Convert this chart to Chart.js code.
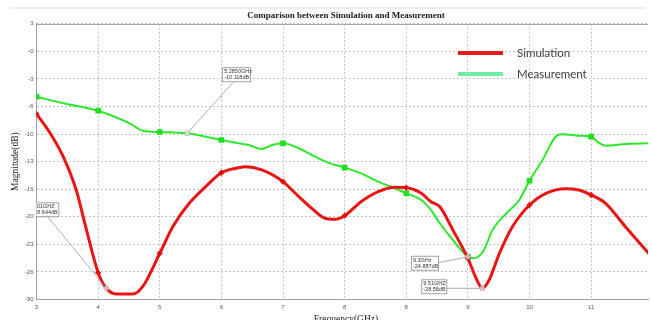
<!DOCTYPE html>
<html>
<head>
<meta charset="utf-8">
<script src="https://cdn.jsdelivr.net/npm/chart.js@4.4.0/dist/chart.umd.min.js"></script>
<style>
  body { margin: 0; background: #fff; }
  #wrap { width: 652px; height: 320px; position: relative; }
</style>
</head>
<body>
<div id="wrap"><canvas id="chart"></canvas></div>
<script>
// Simulation curve (GHz, dB)
const simFreq = [3.00, 3.20, 3.39, 3.58, 3.73, 3.9, 4.02, 4.16, 4.41, 4.55, 4.8, 4.99, 5.23, 5.47, 5.7,
  5.95, 6.05, 6.29, 6.6, 6.78, 7.02, 7.21, 7.36, 7.5, 7.74, 7.99, 8.23, 8.4, 8.62, 8.76, 8.89,
  9.08, 9.3, 9.42, 9.51, 9.61, 9.76, 9.95, 10.2, 10.44, 10.73, 10.92, 11.1, 11.31, 11.6, 11.94];
const simDb = [-7.80, -10.11, -12.91, -16.90, -21.68, -26.79, -28.66, -29.34, -29.34, -28.47, -24.47, -21.29, -18.49, -16.50, -14.83,
  -14.23, -14.11, -14.50, -15.90, -17.29, -19.09, -20.28, -20.40, -19.97, -18.30, -17.10, -16.57, -16.62, -17.29, -18.30, -18.90,
  -21.68, -25.07, -27.46, -28.66, -27.67, -24.47, -21.29, -18.69, -17.29, -16.74, -16.90, -17.50, -18.49, -21.29, -24.47];

// Measurement curve (GHz, dB)
const measFreq = [3.00, 3.39, 3.9, 4.36, 4.55, 4.8, 5.2, 5.7, 5.95, 6.10, 6.29, 6.44, 6.6, 6.78, 7.02, 7.26,
  7.5, 7.74, 7.99, 8.23, 8.4, 8.62, 8.76, 8.89, 9.08, 9.3, 9.37, 9.52, 9.66, 9.86, 10.05, 10.2,
  10.39, 10.58, 10.68, 10.92, 11.1, 11.21, 11.31, 11.6, 11.94];
const measDb = [-5.73, -6.52, -7.41, -8.92, -9.80, -9.96, -10.11, -10.92, -11.31, -11.51, -11.99, -11.51, -11.31, -11.72, -12.71, -13.63,
  -14.23, -14.90, -15.90, -16.69, -17.29, -18.09, -19.29, -20.88, -22.88, -24.88, -25.07, -24.28, -21.68, -19.69, -18.09, -15.79,
  -13.31, -10.52, -10.23, -10.40, -10.52, -11.24, -11.60, -11.39, -11.31];

// marker symbols sit on every x tick
const markerFreq = [3, 3.9, 4.8, 5.7, 6.6, 7.5, 8.4, 9.3, 10.2, 11.1];
const simMarkerDb = [-7.80, -26.79, -24.47, -14.83, -15.90, -19.97, -16.62, -25.07, -18.69, -17.50];
const measMarkerDb = [-5.73, -7.41, -9.96, -10.92, -11.31, -14.23, -17.29, -24.88, -15.79, -10.52];

// axis ticks as printed on the original plot
const xTicks = [3, 3.9, 4.8, 5.7, 6.6, 7.5, 8.4, 9.3, 10.2, 11.1];
const xTickLabels = ['3', '4', '5', '6', '7', '8', '8', '9', '10', '11'];
const yTicks = [3, -0.3, -3.6, -6.9, -10.2, -13.5, -16.8, -20.1, -23.4, -26.7, -30];
const yTickLabels = ['3', '-0', '-3', '-6', '-10', '-13', '-16', '-20', '-23', '-26', '-30'];

// data tips
const tipFreq = [5.2, 4.02, 9.3, 9.51];
const tipDb = [-10.11, -28.66, -24.88, -28.66];
const tipText = [['5.2850GHz', '-10.118dB'], ['4.01GHZ', '-28.644dB'], ['9.3GHz', '-24.887dB'], ['9.51GHZ', '-28.58dB']];
// box placement relative to the tip point (px), ax/ay = where the leader leaves the box
const tipBox = [
  { dx: 35, dy: -66, w: 28, ax: 12, ay: 14 },
  { dx: -76, dy: -86, w: 28, ax: 17, ay: 14 },
  { dx: -57, dy: -1, w: 27, ax: 27, ay: 7 },
  { dx: -61, dy: -9, w: 25, ax: 25, ay: 9 }
];

const toPoints = (xs, ys) => xs.map((x, i) => ({ x: x, y: ys[i] }));

const decorations = {
  id: 'decorations',
  beforeDraw(chart) {
    const ctx = chart.ctx;
    ctx.save();
    ctx.strokeStyle = '#eeeeee';
    ctx.lineWidth = 2;
    ctx.beginPath();
    ctx.moveTo(10, 8);
    ctx.lineTo(645, 8);
    ctx.stroke();
    ctx.fillStyle = '#1a1a1a';
    ctx.font = 'bold 9px "Liberation Serif"';
    ctx.textAlign = 'center';
    ctx.textBaseline = 'middle';
    ctx.fillText('Comparison between Simulation and Measurement', 346, 16);
    ctx.restore();
  },
  afterDatasetsDraw(chart) {
    const ctx = chart.ctx;
    const area = chart.chartArea;
    const xs = chart.scales.x, ys = chart.scales.y;
    ctx.save();
    // solid top frame
    ctx.strokeStyle = '#a8a8a8';
    ctx.lineWidth = 1;
    ctx.beginPath();
    ctx.moveTo(area.left, Math.round(area.top) + 0.5);
    ctx.lineTo(area.right, Math.round(area.top) + 0.5);
    ctx.stroke();

    ctx.beginPath();
    ctx.rect(area.left, area.top, area.right - area.left, area.bottom - area.top);
    ctx.clip();
    tipFreq.forEach((f, i) => {
      const px = xs.getPixelForValue(f);
      const py = ys.getPixelForValue(tipDb[i]);
      const b = tipBox[i];
      const bx = px + b.dx, by = py + b.dy;
      ctx.strokeStyle = '#9a9a9a';
      ctx.lineWidth = 0.8;
      ctx.beginPath();
      ctx.moveTo(bx + b.ax, by + b.ay);
      ctx.lineTo(px, py);
      ctx.stroke();
      ctx.beginPath();
      ctx.arc(px, py, 2.5, 0, Math.PI * 2);
      ctx.fillStyle = 'rgba(255,255,255,0.6)';
      ctx.fill();
      ctx.stroke();
      ctx.fillStyle = '#fff';
      ctx.fillRect(bx, by, b.w, 14);
      ctx.strokeStyle = '#8a8a8a';
      ctx.strokeRect(bx + 0.5, by + 0.5, b.w, 14);
      ctx.fillStyle = '#333';
      ctx.font = '5.5px "Liberation Sans"';
      ctx.textAlign = 'left';
      ctx.textBaseline = 'middle';
      ctx.fillText(tipText[i][0], bx + 2, by + 4.5);
      ctx.fillText(tipText[i][1], bx + 2, by + 10.5);
    });
    ctx.restore();

    // legend
    ctx.save();
    ctx.lineWidth = 4;
    ctx.strokeStyle = '#e31b1b';
    ctx.beginPath(); ctx.moveTo(458, 53); ctx.lineTo(503, 53); ctx.stroke();
    ctx.strokeStyle = '#6cefa4';
    ctx.beginPath(); ctx.moveTo(458, 74); ctx.lineTo(503, 74); ctx.stroke();
    ctx.fillStyle = '#3a3a3a';
    ctx.font = '11.5px Lato';
    ctx.textBaseline = 'middle';
    ctx.fillText('Simulation', 517, 53);
    ctx.fillText('Measurement', 517, 74);
    // x axis title (cut by the bottom edge like the original)
    ctx.fillStyle = '#1a1a1a';
    ctx.font = '9.5px "Liberation Serif"';
    ctx.textAlign = 'center';
    ctx.fillText('Frequency(GHz)', 346, 319);
    ctx.restore();
  }
};

new Chart(document.getElementById('chart'), {
  type: 'line',
  data: {
    datasets: [
      {
        label: 'Simulation markers',
        data: toPoints(markerFreq, simMarkerDb),
        showLine: false,
        pointStyle: 'rectRot',
        pointRadius: 3.2,
        backgroundColor: '#e01010',
        borderColor: '#e01010',
        borderWidth: 0,
        clip: 0
      },
      {
        label: 'Simulation',
        data: toPoints(simFreq, simDb),
        borderColor: '#e81515',
        borderWidth: 3,
        pointRadius: 0,
        cubicInterpolationMode: 'monotone',
        clip: 0
      },
      {
        label: 'Measurement markers',
        data: toPoints(markerFreq, measMarkerDb),
        showLine: false,
        pointStyle: 'rect',
        pointRadius: 4,
        backgroundColor: '#1fe01f',
        borderColor: '#1fe01f',
        borderWidth: 0,
        clip: 0
      },
      {
        label: 'Measurement',
        data: toPoints(measFreq, measDb),
        borderColor: '#2ee82e',
        borderWidth: 2,
        pointRadius: 0,
        cubicInterpolationMode: 'monotone',
        clip: 0
      }
    ]
  },
  options: {
    responsive: true,
    maintainAspectRatio: false,
    animation: false,
    layout: { padding: { top: 23.7, right: 0, bottom: 0, left: 0 } },
    plugins: {
      legend: { display: false },
      tooltip: { enabled: false }
    },
    scales: {
      x: {
        type: 'linear',
        min: 3,
        max: 11.93,
        afterBuildTicks: (axis) => { axis.ticks = xTicks.map(v => ({ value: v })); },
        afterFit: (axis) => { axis.height = 20.5; },
        ticks: {
          autoSkip: false,
          maxRotation: 0,
          padding: 4,
          color: '#555',
          font: { size: 6, family: 'Liberation Sans' },
          callback: (value, index) => xTickLabels[index]
        },
        grid: { color: '#c4c4c4', drawTicks: false },
        border: { display: true, color: '#a0a0a0', width: 1, dash: [2, 2] }
      },
      y: {
        min: -30,
        max: 3,
        afterBuildTicks: (axis) => { axis.ticks = yTicks.map(v => ({ value: v })); },
        afterFit: (axis) => { axis.width = 36.5; },
        ticks: {
          autoSkip: false,
          padding: 3,
          color: '#555',
          font: { size: 6, family: 'Liberation Sans' },
          callback: (value, index) => yTickLabels[index]
        },
        title: {
          display: true,
          text: 'Magnitude(dB)',
          color: '#1a1a1a',
          font: { size: 9.5, family: 'Liberation Serif' },
          padding: { top: 9.5, bottom: 0 }
        },
        grid: { color: '#c4c4c4', drawTicks: false },
        border: { display: true, color: '#a0a0a0', width: 1, dash: [2, 2] }
      }
    }
  },
  plugins: [decorations]
});
</script>
</body>
</html>
